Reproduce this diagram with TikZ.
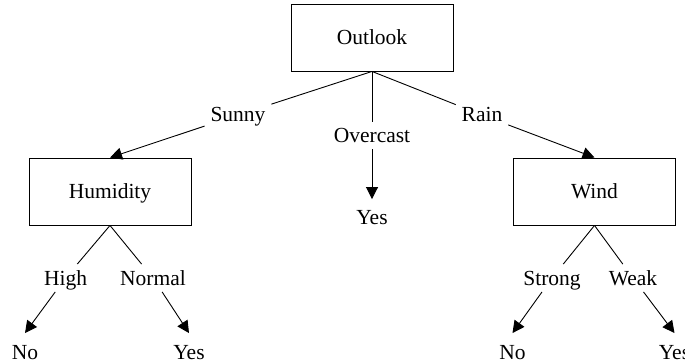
\documentclass[tikz,border=0pt]{standalone}
\usepackage{fontspec}
\setmainfont{Liberation Serif}
\usetikzlibrary{arrows.meta,positioning}

\begin{document}
\begin{tikzpicture}[
    x=1pt, y=1pt, on grid,
    line width=0.9pt,
    >={Triangle[length=12pt,width=12pt]},
    font=\fontsize{21.5}{26}\selectfont,
    every node/.append style={text height=15pt, text depth=1pt},
    box/.style={rectangle, draw, minimum width=162pt, minimum height=67pt},
    cond/.style={inner sep=5.5pt},
    leaf/.style={inner sep=0pt, minimum height=37pt}
]
    \useasboundingbox (0,0) rectangle (685,-363);
    \node[box] (O) at (372,-37.5) {Outlook};
    \node[cond, below left=77.5pt and 134pt of O] (S) {Sunny};
    \node[cond, below=98pt of O] (C) {Overcast};
    \node[cond, below right=77.5pt and 110pt of O] (R) {Rain};
    \node[box, below left=154pt and 262pt of O] (H) {Humidity};
    \node[leaf, below=180.5pt of O] (Y) {Yes};
    \node[box, below right=154pt and 222.5pt of O] (W) {Wind};

    \node[cond, below left=86.5pt and 44.5pt of H] (HI) {High};
    \node[cond, below right=86.5pt and 43pt of H] (NM) {Normal};
    \node[leaf, below left=160.5pt and 85pt of H] (NH) {No};
    \node[leaf, below right=160.5pt and 79pt of H] (YH) {Yes};

    \node[cond, below left=86.5pt and 42.5pt of W] (ST) {Strong};
    \node[cond, below right=86.5pt and 38.5pt of W] (WK) {Weak};
    \node[leaf, below left=160.5pt and 82pt of W] (NW) {No};
    \node[leaf, below right=160.5pt and 80pt of W] (YW) {Yes};

    \draw (O.south) -- (S);
    \draw[->] (S) -- (H.north);
    \draw (O.south) -- (C);
    \draw[->] (C) -- (Y);
    \draw (O.south) -- (R);
    \draw[->] (R) -- (W.north);

    \draw (H.south) -- (HI);
    \draw[->] (HI) -- (NH.north);
    \draw (H.south) -- (NM);
    \draw[->] (NM) -- (YH.north);

    \draw (W.south) -- (ST);
    \draw[->] (ST) -- (NW.north);
    \draw (W.south) -- (WK);
    \draw[->] (WK) -- (YW.north);
\end{tikzpicture}
\end{document}
